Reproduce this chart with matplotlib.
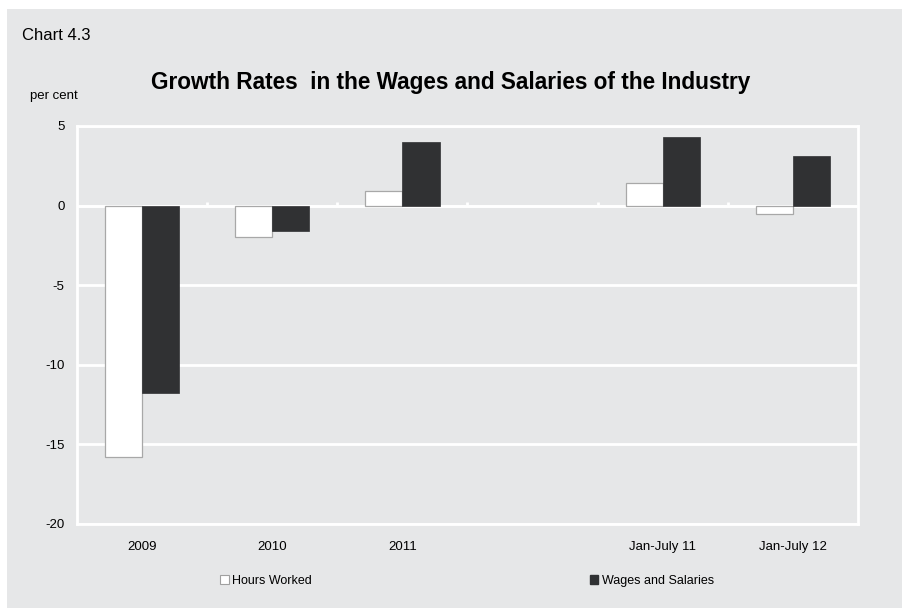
import numpy as np
import matplotlib
matplotlib.use('Agg')
import matplotlib.pyplot as plt
from matplotlib.patches import Rectangle, Patch

plt.rcParams['font.family'] = ['Liberation Sans', 'DejaVu Sans']

# growth rates, per cent (empty slot between annual and Jan-July figures)
categories = ['2009', '2010', '2011', '', 'Jan-July 11', 'Jan-July 12']
hours_worked = [-15.8, -2.0, 0.9, np.nan, 1.4, -0.5]
wages_salaries = [-11.8, -1.6, 4.0, np.nan, 4.3, 3.1]

bg = '#e6e7e8'
dark = '#303133'

fig = plt.figure(figsize=(9.02, 6.08), dpi=100, facecolor='white')
fig.patches.append(Rectangle((7 / 902, 0), 1, 1 - 9 / 608, transform=fig.transFigure,
                             facecolor=bg, edgecolor='none', zorder=-10))

ax = fig.add_axes([77 / 902, 1 - 524 / 608, 781 / 902, 398 / 608])
ax.set_facecolor(bg)

x = np.arange(len(categories))
w = 0.285
ax.bar(x - w / 2, hours_worked, w, color='white', edgecolor='#a8a8a8', linewidth=0.9,
       label='Hours Worked', zorder=3)
ax.bar(x + w / 2, wages_salaries, w, color=dark, edgecolor=dark, linewidth=0.5,
       label='Wages and Salaries', zorder=3)

ax.set_xlim(-0.5, len(categories) - 0.5)
ax.set_ylim(-20, 5)
ax.set_yticks(np.arange(-20, 6, 5))
ax.set_yticklabels([str(v) for v in range(-20, 6, 5)], fontsize=9.5)
ax.set_xticks(x)
ax.set_xticklabels(categories, fontsize=9.5)
ax.tick_params(axis='both', length=0, colors='black')
ax.tick_params(axis='x', pad=12)
ax.tick_params(axis='y', pad=9)

ax.grid(axis='y', color='white', linewidth=2, zorder=1)
ax.axhline(0, color='white', linewidth=2, zorder=2)
# small separators between categories on the zero line
ax.vlines(x[:-1] + 0.5, 0, 0.25, color='white', linewidth=2, zorder=2)
for side in ['left', 'right', 'top', 'bottom']:
    ax.spines[side].set_color('white')
    ax.spines[side].set_linewidth(2)

fig.text(22 / 902, 1 - 35 / 608, 'Chart 4.3', fontsize=12, va='center', ha='left')
fig.text(30 / 902, 1 - 96 / 608, 'per cent', fontsize=9.5, va='center', ha='left')
fig.text(451 / 902, 1 - 82 / 608, 'Growth Rates  in the Wages and Salaries of the Industry',
         fontsize=16.3, fontweight='bold', va='center', ha='center')

handles = [Patch(facecolor='white', edgecolor='#a0a0a0', linewidth=0.8, label='Hours Worked'),
           Patch(facecolor=dark, edgecolor=dark, label='Wages and Salaries')]
fig.legend(handles=handles, loc='center', bbox_to_anchor=(467 / 902, 1 - 581 / 608),
           ncol=2, frameon=False, fontsize=9, handlelength=0.7, handleheight=0.7,
           handletextpad=0.3, columnspacing=22.2)

fig.savefig('out.png', dpi=100, facecolor=fig.get_facecolor())
